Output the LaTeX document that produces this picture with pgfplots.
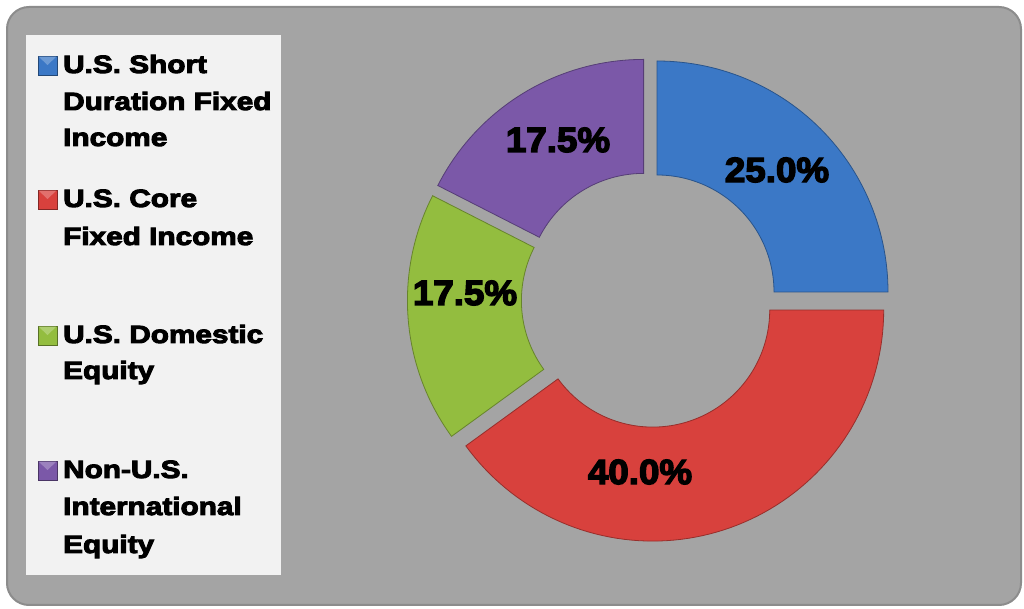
\documentclass[border=0pt]{standalone}
\usepackage{fontspec}
\setmainfont{Liberation Sans}
\newfontfamily\lgfont{Liberation Sans}[BoldFeatures={FakeStretch=1.19,FakeBold=4}]
\newfontfamily\lbfont{Liberation Sans}[BoldFeatures={FakeStretch=1.05,FakeBold=4}]
\usepackage{pgfplots}
\pgfplotsset{compat=1.18}
\usepgfplotslibrary{fillbetween}
\tikzset{fill between/on layer=main}
\definecolor{bgc}{HTML}{A4A4A4}
\definecolor{legbg}{HTML}{F2F2F2}
\definecolor{cB}{HTML}{3B78C6}
\definecolor{cR}{HTML}{D8413D}
\definecolor{cG}{HTML}{93BD3F}
\definecolor{cP}{HTML}{7B58A8}
\begin{document}
\begin{tikzpicture}
\fill[white] (0pt,0pt) rectangle (1024pt,609pt);
\draw[rounded corners=22pt, fill=bgc, draw=black!45, line width=2pt] (7pt,4pt) rectangle (1021pt,602pt);
\fill[legbg] (26pt,34pt) rectangle (281pt,574pt);
\begin{axis}[at={(0pt,0pt)}, anchor=south west, scale only axis, width=1024pt, height=609pt,
  xmin=0, xmax=1024, ymin=0, ymax=609, hide axis, clip=false]
% shares: 25.0 / 40.0 / 17.5 / 17.5 percent -> 90 / 144 / 63 / 63 degrees, clockwise from 12 o'clock
% outer radius 231, inner radius 117, each slice pulled out 11 along its bisector
% U.S. Short Duration Fixed Income 25.0 : 90 -> 0
\addplot[name path=oB, draw=none, domain=90:0, samples=61, variable=\t] ({657.0+231*cos(t)},{317.0+231*sin(t)});
\addplot[name path=iB, draw=none, domain=90:0, samples=61, variable=\t] ({657.0+117*cos(t)},{317.0+117*sin(t)});
\addplot[fill=cB, draw=cB!70!black, line width=0.8pt] fill between[of=oB and iB];
% U.S. Core Fixed Income 40.0 : 0 -> -144
\addplot[name path=oR, draw=none, domain=0:-144, samples=81, variable=\t] ({652.7+231*cos(t)},{298.9+231*sin(t)});
\addplot[name path=iR, draw=none, domain=0:-144, samples=81, variable=\t] ({652.7+117*cos(t)},{298.9+117*sin(t)});
\addplot[fill=cR, draw=cR!70!black, line width=0.8pt] fill between[of=oR and iR];
% U.S. Domestic Equity 17.5 : -144 -> -207
\addplot[name path=oG, draw=none, domain=-144:-207, samples=41, variable=\t] ({638.4+231*cos(t)},{308.4+231*sin(t)});
\addplot[name path=iG, draw=none, domain=-144:-207, samples=41, variable=\t] ({638.4+117*cos(t)},{308.4+117*sin(t)});
\addplot[fill=cG, draw=cG!70!black, line width=0.8pt] fill between[of=oG and iG];
% Non-U.S. International Equity 17.5 : -207 -> -270
\addplot[name path=oP, draw=none, domain=-207:-270, samples=41, variable=\t] ({643.6+231*cos(t)},{318.6+231*sin(t)});
\addplot[name path=iP, draw=none, domain=-207:-270, samples=41, variable=\t] ({643.6+117*cos(t)},{318.6+117*sin(t)});
\addplot[fill=cP, draw=cP!70!black, line width=0.8pt] fill between[of=oP and iP];
\node[font=\lbfont\bfseries\fontsize{35}{40}\selectfont] at (axis cs:777,439) {25.0\%};
\node[font=\lbfont\bfseries\fontsize{35}{40}\selectfont] at (axis cs:640,137) {40.0\%};
\node[font=\lbfont\bfseries\fontsize{35}{40}\selectfont] at (axis cs:465,316) {17.5\%};
\node[font=\lbfont\bfseries\fontsize{35}{40}\selectfont] at (axis cs:558,469) {17.5\%};
\end{axis}
% legend
\tikzset{lt/.style={anchor=base west, inner sep=0pt, font=\lgfont\bfseries\fontsize{25}{30}\selectfont}}
\foreach \yb/\c in {536/cB, 402/cR, 266/cG, 131/cP}{
  \fill[\c, draw=\c!60!black, line width=0.6pt] (38pt,\yb pt-2pt) rectangle (57pt,\yb pt+17pt);
  \fill[\c!75!white] (38.6pt,\yb pt+16.4pt) -- (56.4pt,\yb pt+16.4pt) -- (47.5pt,\yb pt+8pt) -- cycle;
}
\node[lt] at (63pt,536pt) {U.S. Short};
\node[lt] at (63pt,499pt) {Duration Fixed};
\node[lt] at (63pt,463pt) {Income};
\node[lt] at (63pt,402pt) {U.S. Core};
\node[lt] at (63pt,364pt) {Fixed Income};
\node[lt] at (63pt,266pt) {U.S. Domestic};
\node[lt] at (63pt,230pt) {Equity};
\node[lt] at (63pt,131pt) {Non-U.S.};
\node[lt] at (63pt,94pt) {International};
\node[lt] at (63pt,56pt) {Equity};
\end{tikzpicture}
\end{document}
